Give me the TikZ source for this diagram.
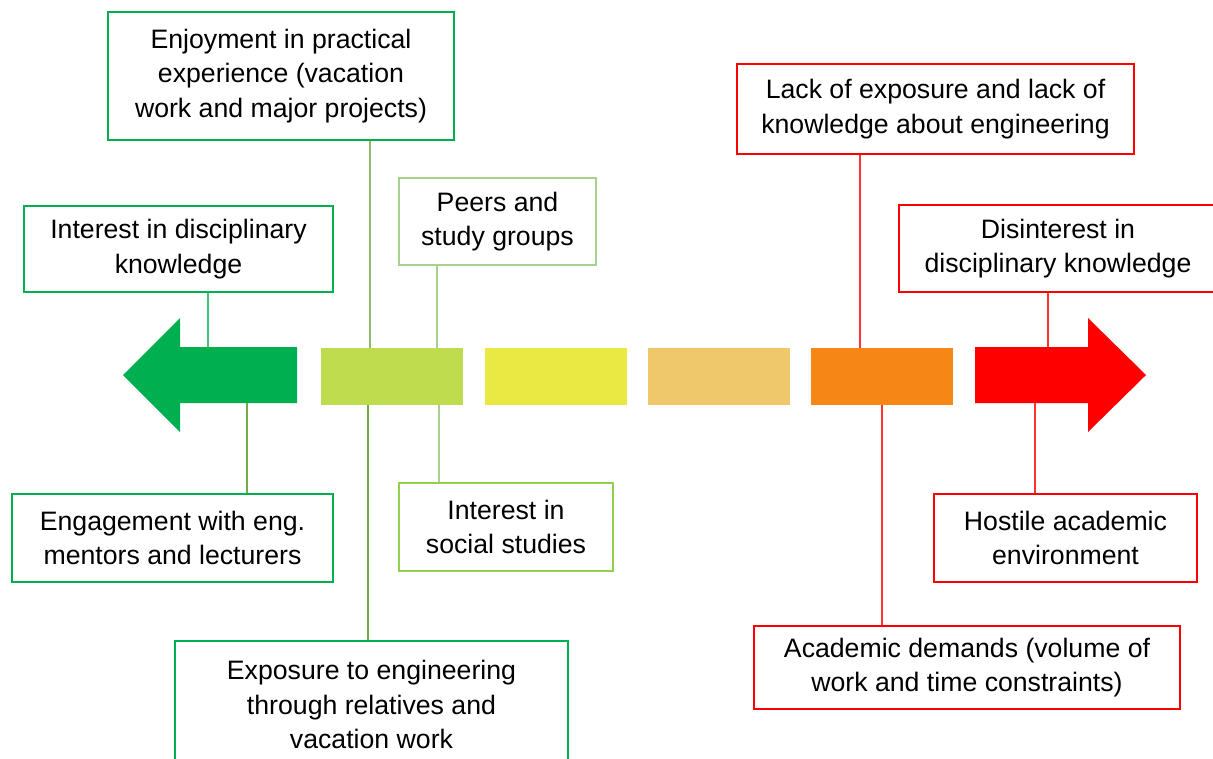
\documentclass[tikz,border=0pt]{standalone}
\usepackage{fontspec}
\setmainfont{Liberation Sans}
\definecolor{gogreen}{HTML}{00B050}
\definecolor{golime}{HTML}{92D050}
\definecolor{gopale}{HTML}{A9D18E}
\definecolor{golink}{HTML}{70AD47}
\definecolor{stopred}{HTML}{FF0000}
\definecolor{barone}{HTML}{BEDC4E}
\definecolor{bartwo}{HTML}{EAE843}
\definecolor{barthree}{HTML}{EEC86A}
\definecolor{barfour}{HTML}{F68716}

\begin{document}
\begin{tikzpicture}[x=0.75pt,y=-0.75pt,
    box/.style={draw,rectangle,inner sep=0pt,align=center,font=\fontsize{20}{26}\selectfont},
    thickbox/.style={box,line width=1.5pt},
    thinbox/.style={box,line width=0.8pt},
    link/.style={line width=1pt},
    bar/.style={rectangle,inner sep=0pt,minimum width=106.5pt,minimum height=42.75pt}]
\useasboundingbox (0,0) rectangle (1213,758);

% the scale: two arrows and four bars
\fill[gogreen] (297,347) -- (180,347) -- (180,318) -- (123,375) -- (180,432) -- (180,403) -- (297,403) -- cycle;
\fill[stopred] (975,347) -- (1088,347) -- (1088,318) -- (1146,375) -- (1088,432) -- (1088,403) -- (975,403) -- cycle;
\node[bar,fill=barone] (b1) at (392,376.5) {};
\node[bar,fill=bartwo] (b2) at (556,376.5) {};
\node[bar,fill=barthree] (b3) at (719,376.5) {};
\node[bar,fill=barfour] (b4) at (882,376.5) {};

% where the connectors meet the scale
\coordinate (lt) at (208,347);
\coordinate (lb) at (247,403);
\coordinate (ta) at (370,348);
\coordinate (tb) at (437,348);
\coordinate (ba) at (368,405);
\coordinate (bb) at (439,405);
\coordinate (ot) at (860,348);
\coordinate (ob) at (882,405);
\coordinate (rt) at (1048,347);
\coordinate (rb) at (1035,403);

% motivating factors
\node[thickbox,draw=gogreen,minimum width=259.5pt,minimum height=96pt] (enjoy) at (281,76)
  {Enjoyment in practical\\experience (vacation\\work and major projects)};
\node[thinbox,draw=gopale,minimum width=147.75pt,minimum height=65.25pt] (peers) at (497.5,221.5)
  {Peers and\\study groups};
\node[thinbox,draw=gogreen,minimum width=231.75pt,minimum height=64.5pt] (intdisc) at (178.5,249)
  {Interest in disciplinary\\knowledge};
\node[thickbox,draw=gogreen,minimum width=240.75pt,minimum height=66pt] (engage) at (172.5,538)
  {Engagement with eng.\\mentors and lecturers};
\node[thickbox,draw=golime,minimum width=160.5pt,minimum height=66pt] (social) at (506,527)
  {Interest in\\social studies};
\node[thickbox,draw=gogreen,minimum width=294.75pt,minimum height=95.25pt] (expose) at (371.5,704.5)
  {Exposure to engineering\\through relatives and\\vacation work};

% demotivating factors
\node[thickbox,draw=stopred,minimum width=297.75pt,minimum height=67.5pt] (lack) at (935.5,109)
  {Lack of exposure and lack of\\knowledge about engineering};
\node[thinbox,draw=stopred,minimum width=238.5pt,minimum height=65.25pt] (disint) at (1058,248.5)
  {Disinterest in\\disciplinary knowledge};
\node[thickbox,draw=stopred,minimum width=197.25pt,minimum height=66pt] (hostile) at (1065.5,538)
  {Hostile academic\\environment};
\node[thickbox,draw=stopred,minimum width=319.5pt,minimum height=62.25pt] (academic) at (967,667.5)
  {Academic demands (volume of\\work and time constraints)};

% connectors
\draw[link,golink!80] (enjoy.south -| ta) -- (ta);
\draw[link,gopale] (peers.south -| tb) -- (tb);
\draw[link,gogreen!75] (intdisc.south -| lt) -- (lt);
\draw[link,golink] (lb) -- (engage.north -| lb);
\draw[link,gopale] (bb) -- (social.north -| bb);
\draw[link,golink] (ba) -- (expose.north -| ba);
\draw[link,stopred!80] (lack.south -| ot) -- (ot);
\draw[link,stopred!80] (disint.south -| rt) -- (rt);
\draw[link,stopred!80] (rb) -- (hostile.north -| rb);
\draw[link,stopred!80] (ob) -- (academic.north -| ob);
\end{tikzpicture}
\end{document}
